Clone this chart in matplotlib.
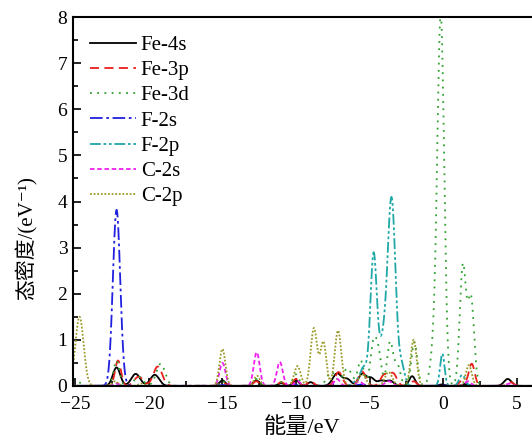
import numpy as np
import matplotlib.pyplot as plt
from matplotlib.ticker import MultipleLocator

plt.rcParams['font.family'] = ['Liberation Serif', 'Noto Sans CJK SC', 'DejaVu Serif']

# peak positions (eV), heights and widths of each projected DOS
fe4s_E = [-22.2, -20.9, -19.6, -15.0, -12.7, -11.0, -10.0, -9.0, -7.2, -6.5, -5.5, -4.9, -4.2, -3.6, -2.1, -0.1, 1.5, 4.4]
fe4s_h = [0.40, 0.26, 0.24, 0.12, 0.12, 0.06, 0.12, 0.08, 0.27, 0.14, 0.26, 0.17, 0.11, 0.11, 0.21, 0.03, 0.04, 0.15]
fe4s_w = [0.25, 0.3, 0.3, 0.2, 0.2, 0.2, 0.2, 0.2, 0.3, 0.25, 0.25, 0.25, 0.25, 0.25, 0.2, 0.2, 0.2, 0.25]

fe3p_E = [-22.1, -20.7, -19.4, -15.0, -12.7, -11.0, -10.0, -9.0, -7.1, -5.5, -4.0, -3.4, -2.0, 1.3, 1.95, 4.6]
fe3p_h = [0.55, 0.2, 0.42, 0.08, 0.1, 0.08, 0.15, 0.1, 0.3, 0.31, 0.24, 0.27, 0.1, 0.12, 0.48, 0.08]
fe3p_w = [0.2, 0.3, 0.3, 0.2, 0.2, 0.2, 0.2, 0.2, 0.25, 0.25, 0.25, 0.25, 0.2, 0.2, 0.2, 0.2]

fe3d_E = [-24.8, -22.2, -20.7, -19.2, -15.0, -12.7, -11.0, -10.0, -7.6, -6.5, -5.6, -4.75, -4.4, -3.6, -3.1, -1.95, -0.6, -0.15, 1.35, 1.9]
fe3d_h = [0.08, 0.55, 0.2, 0.48, 0.1, 0.15, 0.08, 0.25, 0.3, 0.38, 0.55, 0.85, 0.7, 0.95, 0.45, 0.95, 0.8, 7.9, 2.6, 1.9]
fe3d_w = [0.2, 0.2, 0.3, 0.3, 0.2, 0.2, 0.2, 0.2, 0.3, 0.3, 0.2, 0.2, 0.2, 0.2, 0.2, 0.2, 0.25, 0.23, 0.21, 0.21]

f2s_E = [-22.2, -15.0, -10.0, -5.5, -0.1]
f2s_h = [3.82, 0.02, 0.02, 0.03, 0.02]
f2s_w = [0.25, 0.2, 0.2, 0.3, 0.2]

f2p_E = [-22.2, -6.0, -5.4, -4.72, -4.1, -3.5, -2.8, -0.05, 1.3]
f2p_h = [0.05, 0.08, 0.4, 2.85, 0.85, 4.05, 0.4, 0.7, 0.24]
f2p_w = [0.2, 0.2, 0.25, 0.22, 0.25, 0.27, 0.2, 0.15, 0.2]

c2s_E = [-22.2, -15.0, -12.67, -11.1, -9.9, -7.2, -5.7, -3.7, 1.7, 4.5]
c2s_h = [0.05, 0.5, 0.73, 0.52, 0.1, 0.15, 0.1, 0.1, 0.1, 0.05]
c2s_w = [0.2, 0.2, 0.2, 0.2, 0.2, 0.2, 0.2, 0.25, 0.2, 0.2]

c2p_E = [-24.72, -22.3, -20.5, -15.0, -12.65, -9.9, -8.78, -8.14, -7.14, -5.5, -3.7, -2.0, 1.75]
c2p_h = [1.5, 0.1, 0.05, 0.8, 0.22, 0.43, 1.25, 0.95, 1.2, 0.25, 0.3, 1.0, 0.45]
c2p_w = [0.28, 0.2, 0.2, 0.2, 0.2, 0.22, 0.22, 0.2, 0.22, 0.25, 0.25, 0.2, 0.2]

labels = ['Fe-4s', 'Fe-3p', 'Fe-3d', 'F-2s', 'F-2p', 'C-2s', 'C-2p']
colors = ['black', '#e8201c', '#2ea02e', '#2020e0', '#20a8a8', '#f020f0', '#9a9a28']
styles = ['-', (0, (5, 3)), (0, (1, 3)), (0, (7, 2, 1.5, 2)), (0, (6, 1.5, 1.5, 1.5, 1.5, 1.5)), (0, (2.5, 1.5)), (0, (1, 1))]

E = np.linspace(-25.5, 6.5, 4000)


def smear(cen, hgt, wid):
    y = np.zeros_like(E)
    for c, h, w in zip(cen, hgt, wid):
        y += h * np.exp(-(E - c) ** 2 / (2 * w ** 2))
    return y


curves = [smear(fe4s_E, fe4s_h, fe4s_w), smear(fe3p_E, fe3p_h, fe3p_w),
          smear(fe3d_E, fe3d_h, fe3d_w), smear(f2s_E, f2s_h, f2s_w),
          smear(f2p_E, f2p_h, f2p_w), smear(c2s_E, c2s_h, c2s_w),
          smear(c2p_E, c2p_h, c2p_w)]

fig = plt.figure(figsize=(5.32, 4.41), dpi=100)
ax = fig.add_axes([0.137, 0.125, 0.863, 0.836])

for y, lab, col, ls in zip(curves, labels, colors, styles):
    ax.plot(E, y, color=col, linestyle=ls, lw=1.3, label=lab)

ax.set_xlim(-25.17, 6.05)
ax.set_ylim(0, 8)
ax.xaxis.set_major_locator(MultipleLocator(5))
ax.xaxis.set_minor_locator(MultipleLocator(2.5))
ax.yaxis.set_major_locator(MultipleLocator(1))
ax.yaxis.set_minor_locator(MultipleLocator(0.5))
ax.tick_params(which='both', direction='in', labelsize=14, width=1.2)
ax.tick_params(which='major', length=6)
ax.tick_params(which='minor', length=3.5)
ax.tick_params(axis='x', pad=7)
ax.tick_params(axis='y', pad=4)
for s in ax.spines.values():
    s.set_linewidth(1.5)
ax.spines['right'].set_visible(False)

ax.set_xlabel('能量/eV', fontsize=16, labelpad=3)
ax.set_ylabel('态密度/(eV⁻¹)', fontsize=15)
ax.yaxis.set_label_coords(-0.078, 0.40)

ax.legend(loc='upper left', frameon=False, fontsize=15, handlelength=2.2,
          labelspacing=0.27, handletextpad=0.25, borderaxespad=0.3,
          bbox_to_anchor=(0.005, 0.99))

fig.savefig('out.png', dpi=100)
